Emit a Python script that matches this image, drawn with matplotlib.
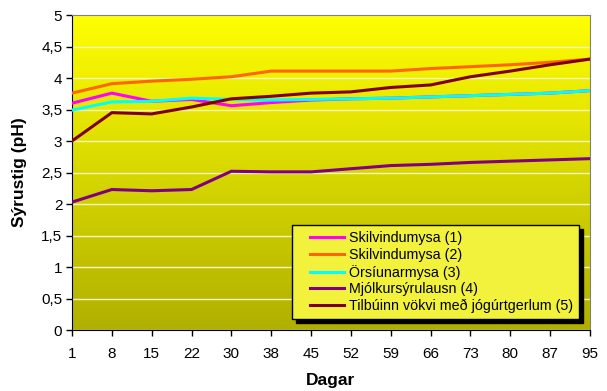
import numpy as np
import matplotlib
matplotlib.use("Agg")
import matplotlib.pyplot as plt
from matplotlib.legend_handler import HandlerLine2D

plt.rcParams['font.family'] = ['Liberation Sans', 'DejaVu Sans']

dagar = ['1', '8', '15', '22', '30', '38', '45', '52', '59', '66', '73', '80', '87', '95']

# pH gildi lesin af myndinni
skilvindumysa_1 = [3.60, 3.76, 3.63, 3.66, 3.56, 3.61, 3.65, 3.67, 3.68, 3.70, 3.72, 3.74, 3.76, 3.80]
skilvindumysa_2 = [3.76, 3.91, 3.95, 3.98, 4.02, 4.11, 4.11, 4.11, 4.11, 4.15, 4.18, 4.21, 4.25, 4.30]
orsiunarmysa_3 = [3.49, 3.62, 3.63, 3.68, 3.66, 3.65, 3.66, 3.67, 3.68, 3.70, 3.72, 3.74, 3.76, 3.80]
mjolkursyrulausn_4 = [2.03, 2.23, 2.21, 2.23, 2.52, 2.51, 2.51, 2.56, 2.61, 2.63, 2.66, 2.68, 2.70, 2.72]
tilbuinn_5 = [3.00, 3.45, 3.43, 3.54, 3.67, 3.71, 3.76, 3.78, 3.85, 3.89, 4.02, 4.11, 4.21, 4.30]

series = [
    ('Skilvindumysa (1)', skilvindumysa_1, '#FF00FF'),
    ('Skilvindumysa (2)', skilvindumysa_2, '#FF6600'),
    ('Örsíunarmysa (3)', orsiunarmysa_3, '#00FFFF'),
    ('Mjólkursýrulausn (4)', mjolkursyrulausn_4, '#800080'),
    ('Tilbúinn vökvi með jógúrtgerlum (5)', tilbuinn_5, '#800000'),
]

fig = plt.figure(figsize=(6.07, 3.91), dpi=100)
ax = fig.add_axes([0.1186, 0.156, 0.8534, 0.8056])

x = np.arange(len(dagar))
n = len(dagar) - 1

# Litastigull i bakgrunni (gult efst, olífugrænt nedst)
grad = np.linspace(1.0, 0.0, 256).reshape(-1, 1)
top = np.array([255, 255, 0]) / 255
bottom = np.array([176, 176, 0]) / 255
img = bottom + grad[..., None] * (top - bottom)
ax.imshow(img, extent=(0, n, 0, 5), aspect='auto', zorder=0, interpolation='bilinear')

for label, vals, color in series:
    ax.plot(x, vals, color=color, lw=2.2, label=label, zorder=3, solid_joinstyle='round')

ax.set_xlim(0, n)
ax.set_ylim(0, 5)
ax.set_xticks(x)
ax.set_xticklabels(dagar)
yt = np.arange(0, 5.01, 0.5)
ax.set_yticks(yt)
ax.set_yticklabels([f'{v:g}'.replace('.', ',') for v in yt])
ax.yaxis.grid(True, color='#F4F4C0', lw=1, zorder=1)
ax.tick_params(labelsize=11, direction='out', length=4, width=1)
ax.tick_params(axis='x', pad=8)
ax.tick_params(axis='y', pad=3)

for s in ['top', 'right']:
    ax.spines[s].set_color('#808080')
for s in ['left', 'bottom']:
    ax.spines[s].set_color('black')

ax.set_xlabel('Dagar', fontsize=12.5, fontweight='bold', labelpad=9)
ax.set_ylabel('Sýrustig (pH)', fontsize=12.5, fontweight='bold', labelpad=10)

leg = ax.legend(loc='upper left', bbox_to_anchor=(0.425, 0.333), borderaxespad=0,
                fontsize=10.3, handlelength=3.2, handletextpad=0.4, labelspacing=0.2,
                borderpad=0.4, fancybox=False, framealpha=1,
                handler_map={plt.Line2D: HandlerLine2D(xpad=0.84)},
                shadow={'color': 'black', 'alpha': 1, 'ox': 3, 'oy': -3})
leg.get_frame().set_facecolor('#F2F23C')
leg.get_frame().set_edgecolor('black')
leg.get_frame().set_linewidth(1)

fig.savefig('out.png', dpi=100)
